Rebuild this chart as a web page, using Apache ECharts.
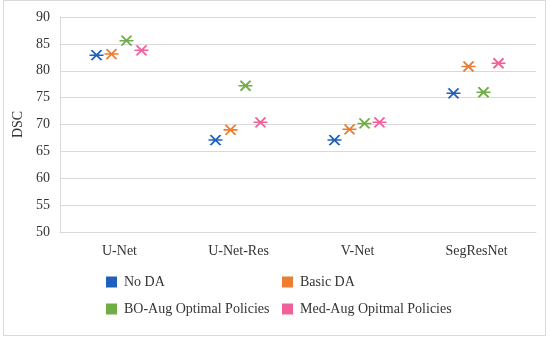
<!DOCTYPE html>
<html><head><meta charset="utf-8">
<script src="https://cdn.jsdelivr.net/npm/echarts@6/dist/echarts.min.js"></script>
<style>html,body{margin:0;padding:0;background:#fff}#c{width:550px;height:340px}</style>
</head><body><div id="c"></div>
<script>
const categories = ['U-Net', 'U-Net-Res', 'V-Net', 'SegResNet'];
const seriesNames = ['No DA', 'Basic DA', 'BO-Aug Optimal Policies', 'Med-Aug Opitmal Policies'];
const noDA = [82.9, 67.1, 67.1, 75.8];
const basicDA = [83.1, 69.0, 69.1, 80.8];
const boAug = [85.6, 77.2, 70.2, 76.0];
const medAug = [83.8, 70.4, 70.4, 81.4];
const colors = ['#1F60BD', '#ED7D31', '#70AD47', '#F0609A'];
const offsets = [-23, -8, 7, 22];
const values = [noDA, basicDA, boAug, medAug];

const font = 'Liberation Serif';
const star = 'path://M0,5L14,5M2,0L12,10M2,10L12,0';

const chart = echarts.init(document.getElementById('c'));
chart.setOption({
  animation: false,
  textStyle: { fontFamily: font },
  graphic: [{ type: 'rect', shape: { x: 3.5, y: 0.5, width: 542, height: 335 }, style: { fill: 'none', stroke: '#d9d9d9', lineWidth: 1 }, silent: true }],
  grid: { left: 60, right: 14, top: 17, bottom: 108 },
  xAxis: {
    type: 'category', data: categories,
    axisLine: { lineStyle: { color: '#d9d9d9' } },
    axisTick: { show: false },
    axisLabel: { color: '#333', fontSize: 14, fontFamily: font, margin: 12 }
  },
  yAxis: {
    type: 'value', min: 50, max: 90, interval: 5,
    name: 'DSC', nameLocation: 'middle', nameGap: 26, nameRotate: 90,
    nameTextStyle: { color: '#333', fontSize: 14, fontFamily: font },
    axisLine: { show: true, lineStyle: { color: '#d9d9d9' } },
    axisTick: { show: false },
    axisLabel: { color: '#333', fontSize: 14, fontFamily: font, margin: 10 },
    splitLine: { lineStyle: { color: '#d9d9d9' } }
  },
  legend: [
    { left: 106, top: 275, padding: 0, orient: 'vertical', itemGap: 13, itemWidth: 11, itemHeight: 11,
      textStyle: { fontFamily: font, fontSize: 14, color: '#333', padding: [0, 0, 0, 2] },
      data: [0, 2].map(i => ({ name: seriesNames[i], icon: 'rect', itemStyle: { color: colors[i], borderWidth: 0, opacity: 1 } })) },
    { left: 282, top: 275, padding: 0, orient: 'vertical', itemGap: 13, itemWidth: 11, itemHeight: 11,
      textStyle: { fontFamily: font, fontSize: 14, color: '#333', padding: [0, 0, 0, 2] },
      data: [1, 3].map(i => ({ name: seriesNames[i], icon: 'rect', itemStyle: { color: colors[i], borderWidth: 0, opacity: 1 } })) }
  ],
  series: values.map((v, i) => ({
    type: 'scatter', name: seriesNames[i], data: v,
    symbol: star, symbolSize: [14, 10], symbolOffset: [offsets[i], 0],
    itemStyle: { color: 'transparent', borderColor: colors[i], borderWidth: 1.8, opacity: 1 }
  }))
});
</script></body></html>
